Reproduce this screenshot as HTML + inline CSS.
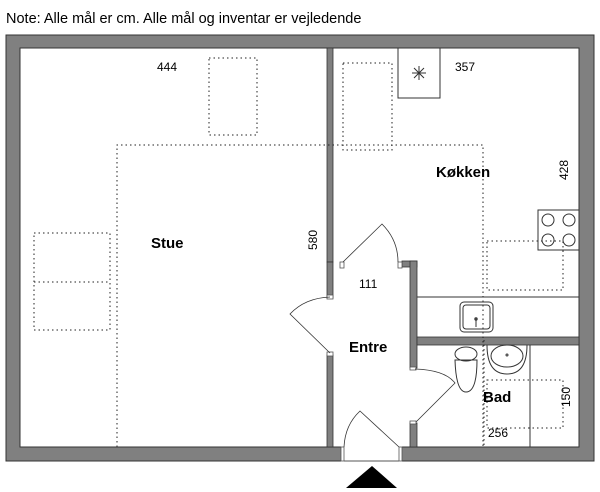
<!DOCTYPE html>
<html><head><style>
body{margin:0;background:#fff;width:600px;height:492px;overflow:hidden}
svg{display:block}
text{font-family:"Liberation Sans",Arial,sans-serif;fill:#000}
</style></head><body>
<svg width="600" height="492" viewBox="0 0 600 492">
<text x="6" y="23" font-size="14.5">Note: Alle mål er cm. Alle mål og inventar er vejledende</text>
<path d="M6,35 H594 V461 H6 Z M20,48 V447 H579 V48 Z" fill="#808080" fill-rule="evenodd" stroke="#333" stroke-width="1"/>
<rect x="341" y="446" width="61" height="16" fill="#fff"/>
<rect x="341" y="447" width="3" height="14" fill="#fff" stroke="#555" stroke-width="0.8"/>
<rect x="399" y="447" width="3" height="14" fill="#fff" stroke="#555" stroke-width="0.8"/>
<line x1="344" y1="461" x2="399" y2="461" stroke="#555"/>
<g fill="#808080" stroke="#333" stroke-width="0.8">
<rect x="327" y="48" width="6" height="214"/>
<rect x="327" y="262" width="6" height="36"/>
<rect x="327" y="355" width="6" height="92"/>
<rect x="402" y="261" width="15" height="6"/>
<rect x="410" y="261" width="7" height="107"/>
<rect x="410" y="423" width="7" height="24"/>
<rect x="417" y="337" width="162" height="8"/>
</g>
<g fill="#fff" stroke="#555" stroke-width="0.8">
<rect x="340" y="262" width="4" height="6"/><rect x="398" y="262" width="4" height="6"/>
<rect x="327" y="295" width="6" height="4"/><rect x="327" y="352" width="6" height="4"/>
<rect x="410" y="367" width="6" height="3"/><rect x="410" y="421" width="6" height="3"/>
</g>
<g fill="none" stroke="#333" stroke-width="0.8">
<path d="M343,262 L382,224 Q398,240 398,262"/>
<path d="M330,353 L290,314 Q305,298 330,297"/>
<path d="M415,369 Q445,370 455,383 L416,422"/>
<path d="M399,447 L360,411 Q345,425 344,447"/>
</g>
<g fill="none" stroke="#222" stroke-width="1" stroke-dasharray="1.5,3">
<rect x="209" y="58" width="48" height="77"/>
<rect x="343" y="63" width="49" height="87"/>
<path d="M117,447 V145 H483 V447"/>
<rect x="34" y="233" width="76" height="97"/>
<line x1="34" y1="282" x2="110" y2="282"/>
<rect x="487" y="241" width="76" height="49"/>
<rect x="487" y="380" width="76" height="48"/>
</g>
<g fill="none" stroke="#333" stroke-width="1">
<rect x="398" y="48" width="42" height="50" fill="#fff"/>
<path d="M412,73 H426 M419,66 V80 M414,68 L424,78 M424,68 L414,78"/>
<rect x="538" y="210" width="41" height="40"/>
<circle cx="548" cy="220" r="6"/><circle cx="569" cy="220" r="6"/>
<circle cx="548" cy="240" r="6"/><circle cx="569" cy="240" r="6"/>
<line x1="417" y1="297" x2="579" y2="297"/>
<rect x="460" y="302" width="33" height="30" rx="4"/>
<rect x="463" y="305" width="27" height="24" rx="3"/>
<line x1="476" y1="318" x2="476" y2="327"/><circle cx="476" cy="319" r="1.2"/>
<line x1="530" y1="345" x2="530" y2="447"/>
<ellipse cx="466" cy="354" rx="11" ry="7"/>
<path d="M455,360 Q456,392 466,392 Q477,392 477,360 Z"/>
<path d="M487,345 Q487,374 507,374 Q527,374 527,345"/>
<ellipse cx="507" cy="356" rx="16" ry="11"/>
<circle cx="507" cy="355" r="1"/>
</g>
<line x1="484" y1="340" x2="484" y2="447" stroke="#222" stroke-dasharray="1.5,3"/>
<polygon points="346,488 372,466 397,488" fill="#000"/>
<text x="157" y="71" font-size="12">444</text>
<text x="455" y="71" font-size="12">357</text>
<text x="151" y="248" font-size="15" font-weight="bold">Stue</text>
<text x="436" y="177" font-size="15" font-weight="bold">Køkken</text>
<text x="349" y="352" font-size="15" font-weight="bold">Entre</text>
<text x="483" y="402" font-size="15" font-weight="bold">Bad</text>
<text x="359" y="288" font-size="12">111</text>
<text x="488" y="437" font-size="12">256</text>
<text transform="translate(317,250) rotate(-90)" font-size="12">580</text>
<text transform="translate(568,180) rotate(-90)" font-size="12">428</text>
<text transform="translate(570,407) rotate(-90)" font-size="12">150</text>
</svg>
</body></html>
